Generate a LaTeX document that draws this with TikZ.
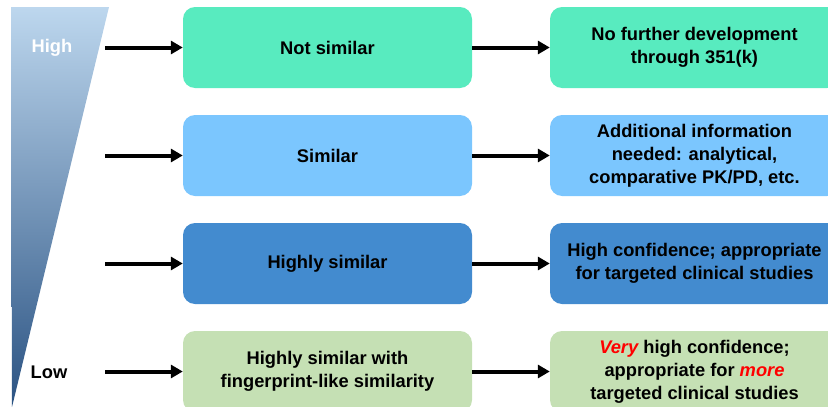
\documentclass[tikz,border=0pt]{standalone}
\usepackage{fontspec}
\setmainfont{Liberation Sans}
\usetikzlibrary{arrows.meta}
\definecolor{cmint}{HTML}{58EBBF}
\definecolor{csky}{HTML}{7BC6FE}
\definecolor{cblue}{HTML}{438BCF}
\definecolor{cgreen}{HTML}{C5E0B4}
\definecolor{ctop}{HTML}{BDD7EE}
\definecolor{cmid}{HTML}{A0BAD5}
\definecolor{cbot}{HTML}{2A5282}
\definecolor{cred}{HTML}{FF0000}
\tikzset{
  box/.style={rounded corners=12pt, minimum width=289pt, minimum height=81pt,
    inner sep=0pt, align=center, font=\fontsize{18.3}{23}\selectfont\bfseries},
  lbl/.style={inner sep=0pt, font=\fontsize{18.3}{23}\selectfont\bfseries},
  arr/.style={line width=4pt, -{Triangle[length=12pt,width=13pt]}}
}
\begin{document}
\begin{tikzpicture}[x=1pt,y=-1pt]
\useasboundingbox (0,0) rectangle (828,407);
\clip (0,0) rectangle (828,407);
\shade[top color=ctop, middle color=cmid, bottom color=cbot] (11,7) -- (109,7) -- (12,407) -- cycle;
\node[lbl, text=white] (high) at (52,48) {High};
\node[lbl] (low) at (49,372) {Low};
% column 1
\node[box, fill=cmint] (a1) at (327.5,47.5) {Not similar};
\node[box, fill=csky] (a2) at (327.5,155.5) {Similar};
\node[box, fill=cblue] (a3) at (327.5,263.5) {Highly similar};
\node[box, fill=cgreen] (a4) at (327.5,371.5) {Highly similar with\\fingerprint-like similarity};
% column 2
\node[box, fill=cmint] (b1) at (694.5,47.5) {No further development\\through 351(k)};
\node[box, fill=csky] (b2) at (694.5,155.5) {Additional information\\needed: analytical,\\comparative PK/PD, etc.};
\node[box, fill=cblue] (b3) at (694.5,263.5) {High confidence; appropriate\\for targeted clinical studies};
\node[box, fill=cgreen] (b4) at (694.5,371.5) {\textcolor{cred}{\itshape Very} high confidence;\\appropriate for \textcolor{cred}{\itshape more}\\targeted clinical studies};
% arrow starts
\coordinate (s1) at (105,47.5);
\coordinate (s2) at (105,155.5);
\coordinate (s3) at (105,263.5);
\coordinate (s4) at (105,371.5);
\draw[arr] (s1) -- (a1.west);
\draw[arr] (s2) -- (a2.west);
\draw[arr] (s3) -- (a3.west);
\draw[arr] (s4) -- (a4.west);
\draw[arr] (a1.east) -- (b1.west);
\draw[arr] (a2.east) -- (b2.west);
\draw[arr] (a3.east) -- (b3.west);
\draw[arr] (a4.east) -- (b4.west);
\end{tikzpicture}
\end{document}
